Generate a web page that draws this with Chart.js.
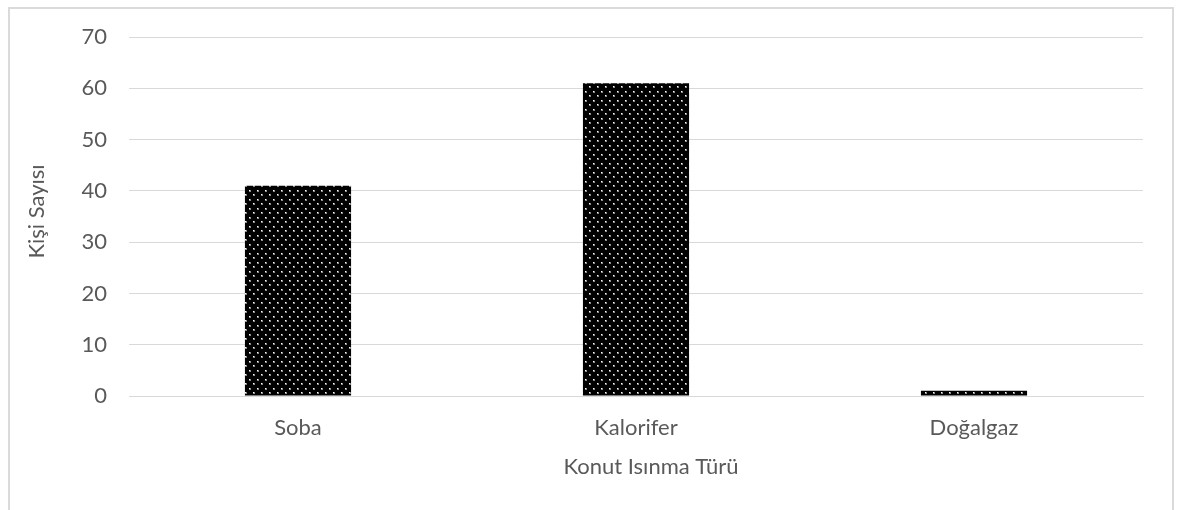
<!DOCTYPE html>
<html>
<head>
<meta charset="utf-8">
<script src="https://cdn.jsdelivr.net/npm/chart.js@4"></script>
<style>
  body { margin: 0; background: #fff; overflow: hidden; }
  #frame { position: absolute; left: 8px; top: 7px; width: 1162px; height: 540px; border: 2px solid #dadada; }
  #chart { position: absolute; left: 0; top: 0; }
</style>
</head>
<body>
<div id="frame"></div>
<canvas id="chart" width="1182" height="510"></canvas>
<script>
const categories = ["Soba", "Kalorifer", "Doğalgaz"];
const counts = [41, 61, 1];
const yTicks = [0, 10, 20, 30, 40, 50, 60, 70];
const xTitle = "Konut Isınma Türü";
const yTitle = "Kişi Sayısı";

const textColor = "#595959";
const gridColor = "#d9d9d9";
const fontFamily = "Lato, 'Open Sans', sans-serif";

// black fill with a staggered grid of small white dots
function dotPattern() {
  const tile = document.createElement("canvas");
  tile.width = 8;
  tile.height = 9;
  const ctx = tile.getContext("2d");
  ctx.fillStyle = "#000";
  ctx.fillRect(0, 0, 8, 9);
  [[1, 1], [5, 5]].forEach(([x, y]) => {
    ctx.fillStyle = "#8a8a8a";
    ctx.fillRect(x, y, 2, 2);
    ctx.fillStyle = "#fff";
    ctx.fillRect(x, y, 1, 1);
  });
  return document.getElementById("chart").getContext("2d").createPattern(tile, "repeat");
}

// excel places the axis titles a bit off the plot centre, so draw them by hand
const axisTitles = {
  id: "axisTitles",
  afterDraw(chart) {
    const { ctx, chartArea } = chart;
    ctx.save();
    ctx.fillStyle = textColor;
    ctx.textAlign = "center";
    ctx.textBaseline = "middle";
    ctx.font = `22px ${fontFamily}`;
    ctx.fillText(xTitle, (chartArea.left + chartArea.right) / 2 + 15, chartArea.bottom + 71);
    ctx.translate(37, (chartArea.top + chartArea.bottom) / 2 - 5);
    ctx.rotate(-Math.PI / 2);
    ctx.fillText(yTitle, 0, 0);
    ctx.restore();
  }
};

new Chart(document.getElementById("chart"), {
  type: "bar",
  data: {
    labels: categories,
    datasets: [{ data: counts, backgroundColor: dotPattern(), borderWidth: 0, barPercentage: 0.314, categoryPercentage: 1 }]
  },
  options: {
    responsive: false,
    animation: false,
    layout: { padding: { top: 37, right: 39, left: 0, bottom: 0 } },
    plugins: { legend: { display: false }, tooltip: { enabled: false } },
    scales: {
      x: {
        grid: { display: false },
        border: { color: gridColor, width: 1 },
        ticks: { color: textColor, padding: 11, font: { family: fontFamily, size: 22 } },
        afterFit: scale => { scale.height = 114; }
      },
      y: {
        min: 0,
        max: 70,
        afterBuildTicks: scale => { scale.ticks = yTicks.map(value => ({ value })); },
        grid: { color: gridColor, drawTicks: false },
        border: { display: false },
        ticks: { color: textColor, padding: 22, font: { family: fontFamily, size: 22 } },
        afterFit: scale => { scale.width = 129; }
      }
    }
  },
  plugins: [axisTitles]
});
</script>
</body>
</html>
